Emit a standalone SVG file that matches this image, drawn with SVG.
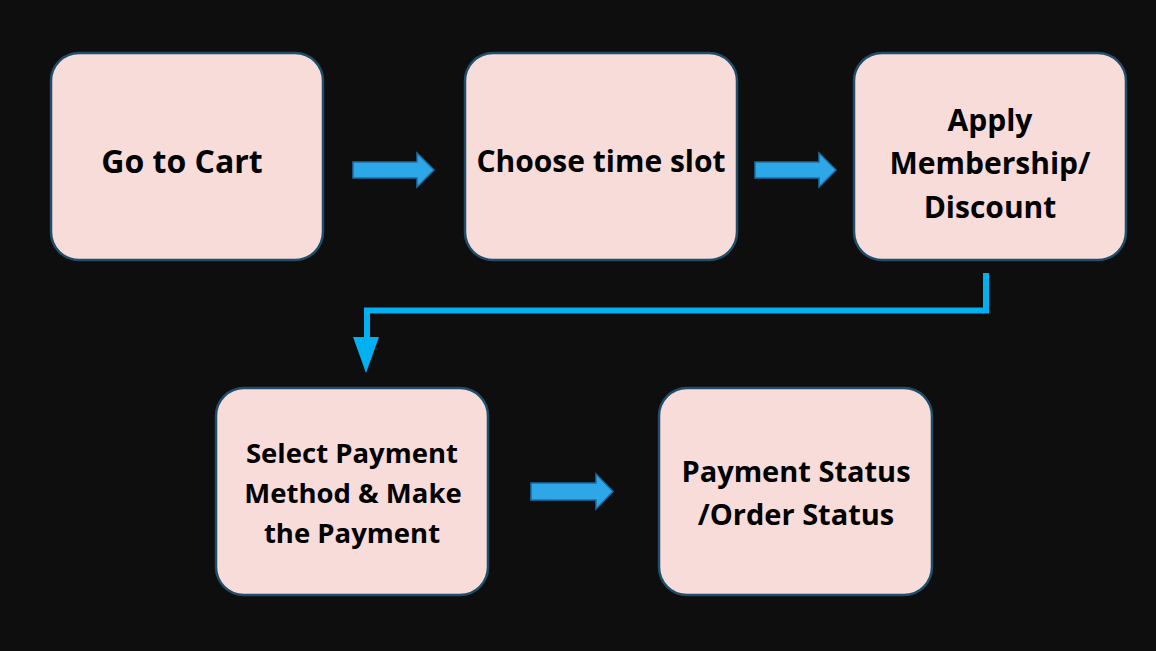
<svg xmlns="http://www.w3.org/2000/svg" width="1156" height="651" viewBox="0 0 1156 651">
<style>
.box{fill:#F8DCDA;stroke:#1F4E6A;stroke-width:2.5}
.t{font-family:"Open Sans","Liberation Sans",sans-serif;font-weight:bold;fill:#000;text-anchor:middle}
.s32{font-size:32px}
.s30{font-size:30px}
.s29{font-size:29px}
.s28{font-size:27.5px}
.arr{fill:#2EA7E8;stroke:#1C6EA4;stroke-width:1.5}
.line{fill:none;stroke:#00B0F0;stroke-width:6}
</style>
<rect width="1156" height="651" fill="#0E0E0E"/>
<g id="node-cart">
<rect class="box" x="51" y="53" width="272" height="207" rx="28"/>
<text class="t s32" x="182" y="173">Go to Cart</text>
</g>
<g id="node-timeslot">
<rect class="box" x="465" y="53" width="272" height="207" rx="28"/>
<text class="t s30" x="601" y="172">Choose time slot</text>
</g>
<g id="node-discount">
<rect class="box" x="854" y="53" width="272" height="207" rx="28"/>
<text class="t s30" x="990" y="131">Apply</text>
<text class="t s30" x="990" y="174">Membership/</text>
<text class="t s30" x="990" y="218">Discount</text>
</g>
<g id="node-payment">
<rect class="box" x="216" y="388" width="272" height="207" rx="28"/>
<text class="t s28" x="352" y="463">Select Payment</text>
<text class="t s28" x="353" y="503">Method &amp; Make</text>
<text class="t s28" x="352" y="543">the Payment</text>
</g>
<g id="node-status">
<rect class="box" x="659" y="388" width="273" height="207" rx="28"/>
<text class="t s29" x="796" y="482">Payment Status</text>
<text class="t s29" x="796" y="525">/Order Status</text>
</g>
<g id="connectors">
<polygon class="arr" points="353,162 417,162 417,153 434,170 417,187 417,178 353,178"/>
<polygon class="arr" points="755,162 819,162 819,153 836,170 819,187 819,178 755,178"/>
<polygon class="arr" points="531,483 596,483 596,474 613,491.5 596,509 596,500 531,500"/>
<polyline class="line" points="986,273 986,310.5 367,310.5 367,338"/>
<polygon fill="#00B0F0" points="353,337 379,337 366,373"/>
</g>
</svg>
